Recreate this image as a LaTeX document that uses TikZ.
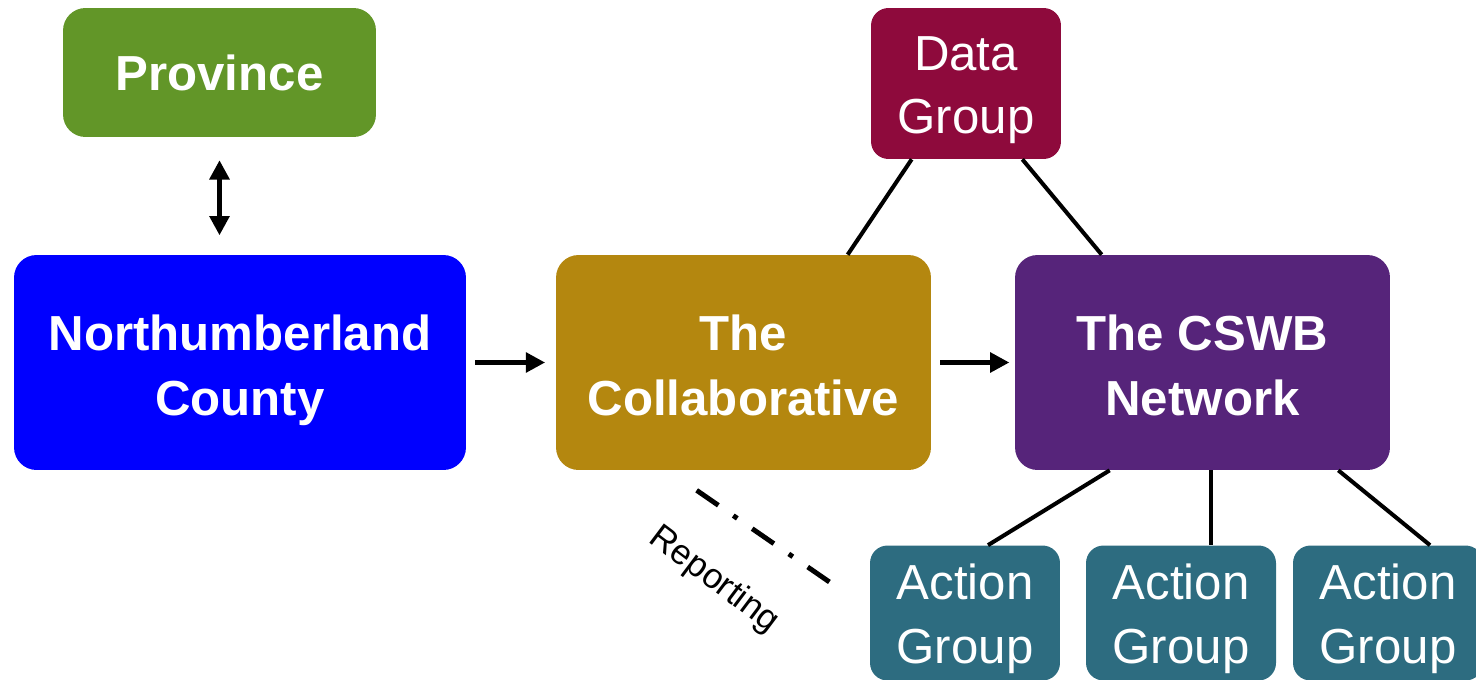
\documentclass[tikz,border=0pt]{standalone}
\usepackage{fontspec}
\setmainfont{Liberation Sans}
\usetikzlibrary{arrows.meta}
\definecolor{provgreen}{RGB}{98,150,40}
\definecolor{countyblue}{RGB}{0,0,255}
\definecolor{collabgold}{RGB}{180,135,15}
\definecolor{cswbpurple}{RGB}{86,36,122}
\definecolor{datared}{RGB}{142,10,60}
\definecolor{actionteal}{RGB}{45,108,128}
\begin{document}
\begin{tikzpicture}[x=0.02cm, y=-0.02cm,
	box/.style={rounded corners=0.45cm, text=white, align=center, inner sep=0pt,
		font=\fontsize{28}{37}\selectfont\bfseries},
	twoline/.style={text height=62pt, text depth=2pt},
	smallbox/.style={rounded corners=0.35cm, text=white, align=center, inner sep=0pt,
		minimum width=3.8cm, text height=60pt, text depth=3pt, font=\fontsize{28}{36}\selectfont},
	link/.style={line width=2.3pt},
	flow/.style={line width=2.8pt, -{Triangle[length=11pt, width=11pt]}}]
\useasboundingbox (0,0) rectangle (1476,679);
\clip (0,0) rectangle (1476,679);
%boxes
	\node[box, fill=provgreen, minimum width=6.26cm, minimum height=2.58cm] (province) at (219.5,72.5) {Province};
	\node[box, twoline, fill=countyblue, minimum width=9.04cm, minimum height=4.3cm] (county) at (240,362.5) {Northumberland\\County};
	\node[box, twoline, fill=collabgold, minimum width=7.5cm, minimum height=4.3cm] (collab) at (743.5,362.5) {The\\Collaborative};
	\node[box, twoline, fill=cswbpurple, minimum width=7.5cm, minimum height=4.3cm] (cswb) at (1202.5,362.5) {The CSWB\\Network};
	\node[smallbox, fill=datared, minimum height=3.02cm] (data) at (966,83.5) {Data\\Group};
	\foreach \x/\name in {965/act1, 1181/act2, 1388/act3}{
		\node[smallbox, fill=actionteal, minimum height=2.7cm] (\name) at (\x,613) {Action\\Group};
	}

%arrows
	\draw[flow, {Triangle[length=11pt, width=11pt]}-{Triangle[length=11pt, width=11pt]}, shorten <=13pt, shorten >=11pt]
		(province.south) -- (province.south |- county.north);
	\draw[flow, shorten <=5pt, shorten >=6pt] (county) -- (collab);
	\draw[flow, shorten <=5pt, shorten >=3pt] (collab) -- (cswb);

%lines
	\draw[link] ([xshift=0.82cm]data.south west) -- ([xshift=5.84cm]collab.north west);
	\draw[link] ([xshift=-0.78cm]data.south east) -- ([xshift=1.74cm]cswb.north west);
	\draw[link] ([xshift=1.9cm]cswb.south west) -- ([xshift=0.46cm]act1.north);
	\draw[link] ([xshift=0.6cm]act2.north |- cswb.south) -- ([xshift=0.6cm]act2.north);
	\draw[link] ([xshift=-1.04cm]cswb.south east) -- ([xshift=0.84cm]act3.north);

%reporting
	\draw[line width=2.8pt, dash pattern=on 15pt off 10.3pt on 2.8pt off 10.3pt]
		([xshift=2.82cm, yshift=-0.4cm]collab.south west) -- ([xshift=-0.8cm, yshift=-0.74cm]act1.north west);
	\node[rotate=-37, font=\fontsize{20}{23}\selectfont] (report) at (714,580) {Reporting};
\end{tikzpicture}
\end{document}
